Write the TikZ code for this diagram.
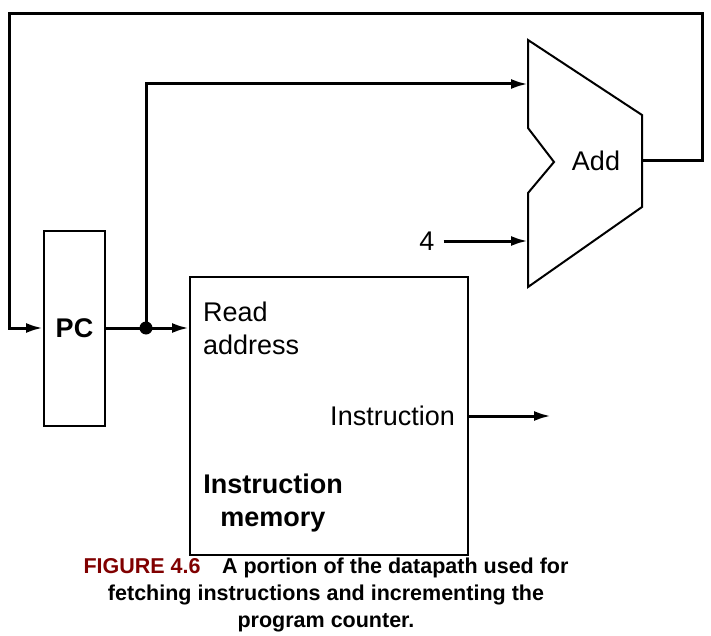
\documentclass[tikz,border=0pt]{standalone}
\usepackage{fontspec}
\setmainfont{Liberation Sans}
\usetikzlibrary{arrows.meta}
\definecolor{figred}{RGB}{128,0,0}

\begin{document}
\begin{tikzpicture}[x=1pt,y=1pt]
\tikzset{
  wire/.style={line width=3pt},
  arr/.style={wire,-{Latex[length=17pt,width=10pt]}},
  unit/.style={draw,line width=2pt,inner sep=0pt},
  lbl/.style={font=\fontsize{27}{33}\selectfont,inner sep=0pt},
}
\useasboundingbox (0,0) rectangle (711,-636);
% state element and memory
\node [unit,minimum width=61,minimum height=195,font=\fontsize{27}{32}\selectfont\bfseries] (pc) at (74.5,-328) {PC};
\node [unit,minimum width=278,minimum height=278] (imem) at (329,-416) {};
\node [lbl,anchor=north west,align=left] (rdaddr) at (203,-302) {Read\\address};
\node [lbl,anchor=east] (instlbl) at (455,-416) {Instruction};
\node [lbl,font=\fontsize{27}{33}\selectfont\bfseries,align=center] (imemlbl) at (273,-503) {Instruction\\memory};
% adder
\draw [line width=2pt] (528,-40) -- (642,-115) -- (642,-207) -- (528,-287) -- (528,-193) -- (554,-162) -- (528,-128) -- cycle;
\node [lbl] (addlbl) at (596,-161) {Add};
\coordinate (addin1) at (528,-84);
\coordinate (addin2) at (528,-241);
\coordinate (addout) at (642,-161);
\node [lbl,inner xsep=9pt] (four) at (427,-241) {4};
% wires
\coordinate (junc) at (146,-328);
\coordinate (loopR) at (702,-14);
\coordinate (loopL) at (9,-14);
\coordinate (instout) at (551,-416);
\draw [wire] (pc.east) -- (junc);
\fill (junc) circle (6.5);
\draw [arr] (junc) -- (junc -| imem.west);
\draw [arr] (junc) |- (addin1);
\draw [arr] (four) -- (addin2);
\draw [arr] (addout) -| (loopR) -- (loopL) |- (pc.west);
\draw [arr] (imem.east) -- (instout);
% caption
\node [font=\fontsize{21.5}{27}\selectfont\bfseries,align=center,inner sep=0pt] (caption) at (326,-595)
  {\textcolor{figred}{FIGURE 4.6}\quad A portion of the datapath used for\\fetching instructions and incrementing the\\program counter.};
\end{tikzpicture}
\end{document}
